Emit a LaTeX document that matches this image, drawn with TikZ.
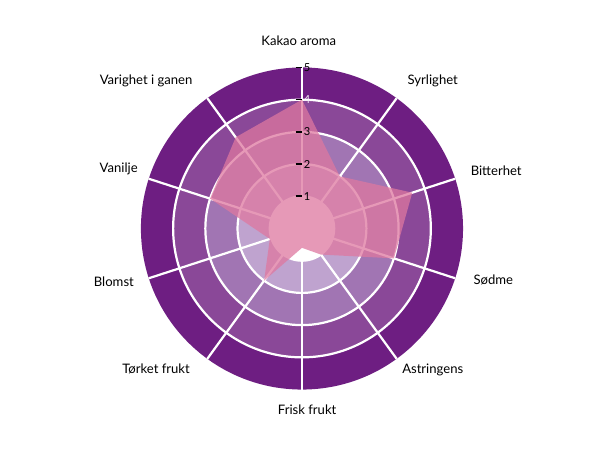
\documentclass[tikz,border=0pt]{standalone}
\usepackage{fontspec}
\setmainfont{Lato}
\usetikzlibrary{arrows.meta}
\definecolor{band5}{RGB}{110,30,130}
\definecolor{band4}{RGB}{138,72,152}
\definecolor{band3}{RGB}{161,117,179}
\definecolor{band2}{RGB}{191,163,207}
\definecolor{flavour}{RGB}{222,120,160}

\begin{document}
\begin{tikzpicture}[x=32pt, y=32pt]
\tikzstyle{axislabel} = [font=\fontsize{13}{15}\selectfont, text=black]
\tikzstyle{ring} = [draw = white, line width = 2.2pt]
\tikzstyle{tick} = [line width = 1.6pt, black]
\useasboundingbox (-9.375, -6.969) rectangle (9.5625, 7.094);
% -----------------------------------
% Bands
\fill[band5] (0, 0) circle (5);
\fill[band4] (0, 0) circle (4);
\fill[band3] (0, 0) circle (3);
\fill[band2] (0, 0) circle (2);
\fill[white] (0, 0) circle (1);
\foreach \r in {1, 2, 3, 4}
  \draw[ring] (0, 0) circle (\r);
\foreach \i in {0, ..., 9}
  \draw[ring] (0, 0) -- (90 - 36*\i : 5);

% -----------------------------------
% Flavour profile
\coordinate (p0) at (90 : 4);
\coordinate (p1) at (54 : 2);
\coordinate (p2) at (18 : 3.6);
\coordinate (p3) at (-18 : 3);
\coordinate (p4) at (-54 : 1);
\coordinate (p5) at (-90 : 0.6);
\coordinate (p6) at (-126 : 2);
\coordinate (p7) at (-162 : 1.05);
\coordinate (p8) at (162 : 3);
\coordinate (p9) at (126 : 3.5);
\fill[flavour, opacity = 0.75] (p0) -- (p1) -- (p2) -- (p3) -- (p4)
  -- (p5) -- (p6) -- (p7) -- (p8) -- (p9) -- cycle;

% -----------------------------------
% Scale
\foreach \v in {1, 2, 3, 5}
  \draw[tick] (-0.2, \v) -- (0, \v) node[right, inner sep = 1pt, axislabel, font = \fontsize{11}{13}\selectfont] (s\v) {\v};
\draw[tick] (-0.2, 4) -- (0, 4) node[right, inner sep = 1pt, text = white!85!band2, font = \fontsize{11}{13}\selectfont] (s4) {4};

% -----------------------------------
% Axis labels
\node[axislabel] (kakao) at (-0.1, 5.84) {Kakao aroma};
\node[axislabel] (syrlighet) at (4.06, 4.59) {Syrlighet};
\node[axislabel] (bitterhet) at (6.03, 1.78) {Bitterhet};
\node[axislabel] (sodme) at (5.94, -1.59) {Sødme};
\node[axislabel] (astringens) at (4.06, -4.375) {Astringens};
\node[axislabel] (frisk) at (0.16, -5.625) {Frisk frukt};
\node[axislabel] (torket) at (-4.53, -4.375) {Tørket frukt};
\node[axislabel] (blomst) at (-5.84, -1.66) {Blomst};
\node[axislabel] (vanilje) at (-5.69, 1.84) {Vanilje};
\node[axislabel] (varighet) at (-4.84, 4.59) {Varighet i ganen};
% -----------------------------------
\end{tikzpicture}
\end{document}
